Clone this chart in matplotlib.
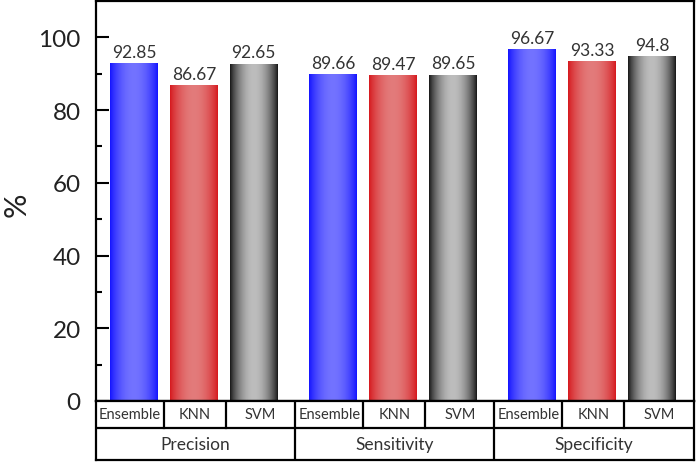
import numpy as np
import matplotlib
matplotlib.use('Agg')
from matplotlib import pyplot as plt
from matplotlib.colors import LinearSegmentedColormap

plt.rcParams['font.family'] = ['Lato', 'DejaVu Sans']

metrics = ['Precision', 'Sensitivity', 'Specificity']
models = ['Ensemble', 'KNN', 'SVM']
ensemble_vals = [92.85, 89.66, 96.67]
knn_vals = [86.67, 89.47, 93.33]
svm_vals = [92.65, 89.65, 94.8]
value_labels = [['92.85', '89.66', '96.67'],
                ['86.67', '89.47', '93.33'],
                ['92.65', '89.65', '94.8']]

# edge colour, centre colour for each model
grad_colors = [((0.08, 0.08, 1.0), (0.45, 0.45, 1.0)),
               ((0.84, 0.1, 0.12), (0.89, 0.48, 0.48)),
               ((0.1, 0.1, 0.1), (0.74, 0.74, 0.74))]

W, H = 697, 464
fig = plt.figure(figsize=(W / 100, H / 100), dpi=100)
ax = fig.add_axes([96 / W, 62 / H, 598 / W, 400 / H])

group_gap = 3.325
width = 0.8
grad = np.sin(np.linspace(0, np.pi, 64)) ** 0.8
grad = grad.reshape(1, -1)

all_vals = [ensemble_vals, knn_vals, svm_vals]
for m, vals in enumerate(all_vals):
    cmap = LinearSegmentedColormap.from_list('g%d' % m, list(grad_colors[m]))
    for g, v in enumerate(vals):
        x = g * group_gap + m
        ax.imshow(grad, cmap=cmap, extent=[x - width / 2, x + width / 2, 0, v],
                  aspect='auto', origin='lower', zorder=2, vmin=0, vmax=1)
        ax.text(x, v + 1.0, value_labels[m][g], ha='center', va='bottom',
                fontsize=12.5, color='#333333')

ax.set_xlim(-0.633, 2 * group_gap + 2.7)
ax.set_ylim(0, 110)
ax.set_yticks([0, 20, 40, 60, 80, 100])
ax.set_yticks(np.arange(10, 110, 20), minor=True)
ax.set_xticks([])
ax.tick_params(axis='y', which='major', direction='in', length=9, width=1.5,
               labelsize=17.5, pad=11, labelcolor='#222222')
ax.tick_params(axis='y', which='minor', direction='in', length=4.5, width=1.5)
for s in ax.spines.values():
    s.set_linewidth(1.6)
fig.text(17 / W, 1 - 205 / H, '%', rotation=90, ha='center', va='center',
         fontsize=22, color='#222222')

# two-level category table under the axes, in pixel units
tab = fig.add_axes([96 / W, 3 / H, 598 / W, 59 / H])
tab.set_xlim(96, 694)
tab.set_ylim(461, 402)
tab.set_xticks([])
tab.set_yticks([])
for s in tab.spines.values():
    s.set_linewidth(1.6)
tab.axhline(429, color='black', lw=1.6)
starts = [96, 295.5, 494.5, 694]
for g, name in enumerate(metrics):
    x0, x1 = starts[g], starts[g + 1]
    cells = [x0, x0 + 68, x0 + 130, x1]
    for c in range(3):
        if c > 0:
            tab.plot([cells[c], cells[c]], [402, 429], color='black', lw=1.6)
        tab.text((cells[c] + cells[c + 1]) / 2, 415.5, models[c], ha='center',
                 va='center', fontsize=10.5, color='#333333')
    if g > 0:
        tab.plot([x0, x0], [402, 461], color='black', lw=1.6)
    tab.text((x0 + x1) / 2, 445, name, ha='center', va='center',
             fontsize=12.5, color='#333333')

fig.savefig('out.png', dpi=100)
